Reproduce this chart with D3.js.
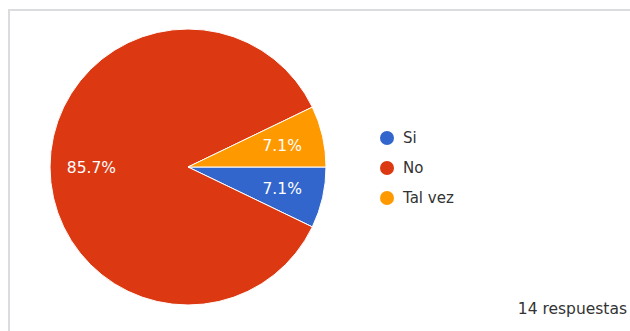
<!DOCTYPE html>
<html>
<head>
<meta charset="utf-8">
<script src="https://cdn.jsdelivr.net/npm/d3@7"></script>
<style>
  html, body { margin: 0; padding: 0; background: #fff; }
  svg { display: block; font-family: "DejaVu Sans", sans-serif; }
</style>
</head>
<body>
<script>
// data
const categories = ['Si', 'No', 'Tal vez'];
const counts = [1, 12, 1];
const colors = ['#3366cc', '#dc3912', '#ff9900'];
const totalLabel = '14 respuestas';

const w = 630, h = 331;
const cx = 188, cy = 167, r = 138;

const svg = d3.select('body').append('svg')
  .attr('width', w)
  .attr('height', h);

// card border (top and left edges visible)
svg.append('path')
  .attr('d', `M9,${h} V10 H${w}`)
  .attr('fill', 'none')
  .attr('stroke', '#dadce0')
  .attr('stroke-width', 2);

const total = d3.sum(counts);
const slices = categories.map((c, i) => ({ name: c, value: counts[i], color: colors[i] }));

// google charts style: starts at 3 o'clock, clockwise, no sorting
const pie = d3.pie()
  .value(d => d.value)
  .sort(null)
  .startAngle(Math.PI / 2)
  .endAngle(Math.PI / 2 + 2 * Math.PI);

const arc = d3.arc().innerRadius(0).outerRadius(r);
const labelArc = d3.arc().innerRadius(r * 0.7).outerRadius(r * 0.7);

const g = svg.append('g').attr('transform', `translate(${cx},${cy})`);

g.selectAll('path')
  .data(pie(slices))
  .enter().append('path')
    .attr('d', arc)
    .attr('fill', d => d.data.color)
    .attr('stroke', '#fff')
    .attr('stroke-width', 1);

const fmt = d3.format('.1f');

g.selectAll('text')
  .data(pie(slices))
  .enter().append('text')
    .attr('transform', d => `translate(${labelArc.centroid(d)})`)
    .attr('text-anchor', 'middle')
    .attr('dy', '0.36em')
    .attr('fill', '#fff')
    .attr('font-size', 15.5)
    .text(d => `${fmt(d.data.value / total * 100)}%`);

// legend
const legend = svg.append('g').attr('transform', 'translate(387,138)');
const item = legend.selectAll('g')
  .data(slices)
  .enter().append('g')
    .attr('transform', (d, i) => `translate(0,${i * 30})`);

item.append('circle')
  .attr('r', 7)
  .attr('fill', d => d.color);

item.append('text')
  .attr('x', 16)
  .attr('dy', '0.36em')
  .attr('fill', '#333')
  .attr('font-size', 15)
  .text(d => d.name);

svg.append('text')
  .attr('x', 627)
  .attr('y', 314)
  .attr('text-anchor', 'end')
  .attr('fill', '#333')
  .attr('font-size', 15.5)
  .text(totalLabel);
</script>
</body>
</html>
